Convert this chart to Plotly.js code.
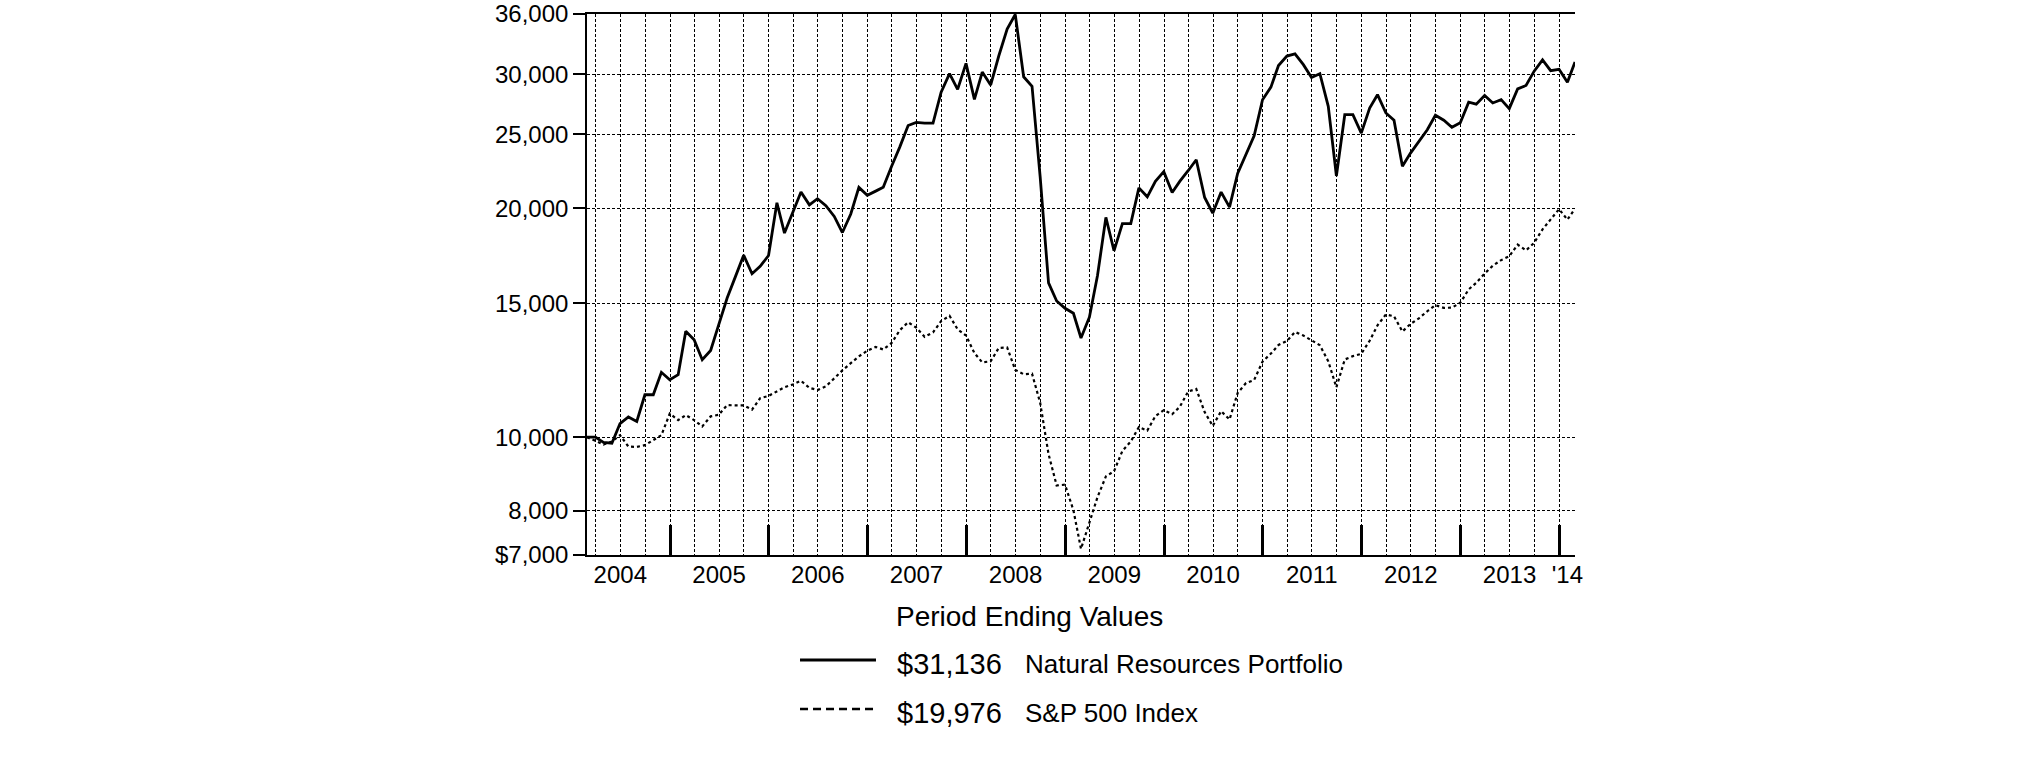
<!DOCTYPE html>
<html>
<head>
<meta charset="utf-8">
<script src="https://cdn.plot.ly/plotly-3.0.1.min.js"></script>
<style>
  html, body { margin: 0; padding: 0; background: #fff; }
  #chart { width: 2025px; height: 761px; }
</style>
</head>
<body>
<div id="chart"></div>
<script>
// growth of a $10,000 investment, month ends Feb 2004 .. Feb 2014
var naturalResources = [
  10000, 10000, 9840, 9820, 10420, 10630, 10490, 11370, 11370, 12170,
  11900, 12080, 13780, 13430, 12640, 13000, 14060, 15240, 16270, 17350,
  16400, 16770, 17330, 20330, 18550, 19710, 21000, 20200, 20580, 20150,
  19510, 18580, 19650, 21300, 20800, 21060, 21310, 22710, 24060, 25690,
  25930, 25870, 25870, 28410, 30050, 28650, 31000, 27800, 30200, 29030,
  31700, 34400, 35950, 29770, 28930, 22000, 15950, 15100, 14770, 14550,
  13500, 14380, 16310, 19450, 17580, 19090, 19090, 21270, 20700, 21700,
  22340, 20970, 21690, 22400, 23160, 20660, 19700, 21000, 20060, 22220,
  23500, 24900, 27770, 28850, 30800, 31700, 31900, 30880, 29700, 30050,
  27220, 22050, 26540, 26540, 25100, 27080, 28200, 26680, 26100, 22700,
  23630, 24480, 25360, 26500, 26100, 25550, 25900, 27570, 27400, 28130,
  27500, 27780, 27030, 28700, 29000, 30280, 31340, 30330, 30450, 29280,
  31136
];

var sp500 = [
  10000, 9890, 9780, 9870, 10060, 9720, 9710, 9760, 9900, 10060,
  10740, 10530, 10690, 10530, 10330, 10650, 10700, 11020, 11010, 11010,
  10870, 11250, 11330, 11500, 11630, 11730, 11860, 11610, 11535, 11660,
  11970, 12240, 12510, 12770, 12990, 13140, 13040, 13300, 13820, 14160,
  13930, 13550, 13730, 14210, 14440, 13860, 13600, 12900, 12540, 12580,
  13100, 13120, 12260, 12100, 12120, 11100, 9500, 8640, 8660, 8015,
  7130, 7700, 8340, 8880, 9020, 9590, 9870, 10310, 10200, 10660,
  10850, 10720, 10960, 11480, 11570, 10790, 10345, 10820, 10550, 11430,
  11780, 11890, 12570, 12880, 13220, 13380, 13750, 13600, 13410, 13210,
  12580, 11630, 12650, 12780, 12870, 13390, 14030, 14500, 14420, 13770,
  14090, 14330, 14640, 14910, 14790, 14800, 15020, 15640, 15960, 16410,
  16800, 17090, 17290, 17910, 17600, 18010, 18760, 19320, 19940, 19320,
  19976
];

var years = [2004, 2005, 2006, 2007, 2008, 2009, 2010, 2011, 2012, 2013];
var yearLabels = ['2004', '2005', '2006', '2007', '2008', '2009', '2010', '2011', '2012', '2013', "'14"];
var yTickVals = [7000, 8000, 10000, 15000, 20000, 25000, 30000, 36000];
var yTickText = ['$7,000', '8,000', '10,000', '15,000', '20,000', '25,000', '30,000', '36,000'];
var endingValues = ['$31,136', '$19,976'];
var seriesNames = ['Natural Resources Portfolio', 'S&P 500 Index'];

function monthEnd(y, m) {
  return new Date(Date.UTC(y, m, 0)).toISOString().slice(0, 10);
}

var months = [];
for (var k = 0; k < naturalResources.length; k++) {
  months.push(monthEnd(2004 + Math.floor((k + 1) / 12), (k + 1) % 12 + 1));
}

// year boundaries get the long tick marks, labels sit mid-year
var yearStarts = years.map(function (y) { return (y + 1) + '-01-01'; });
var labelDates = years.map(function (y) { return y + '-07-01'; }).concat(['2014-01-31']);

var FONT = 'Liberation Sans, Arial, sans-serif';
var xRange = [months[0], months[months.length - 1]];
var GRID_DASH = '3px,2px';

var data = [
  {
    x: months, y: naturalResources, type: 'scatter', mode: 'lines',
    line: { color: '#000', width: 2.8 },
    hoverinfo: 'skip'
  },
  {
    x: months, y: sp500, type: 'scatter', mode: 'lines',
    xaxis: 'x2',
    line: { color: '#000', width: 2.2, dash: '3px,3px' },
    hoverinfo: 'skip'
  }
];

var layout = {
  width: 2025, height: 761,
  margin: { l: 587, r: 450, t: 14, b: 206 },
  paper_bgcolor: '#fff', plot_bgcolor: '#fff',
  showlegend: false,
  font: { family: FONT, color: '#000', size: 24 },
  xaxis: {
    type: 'date', range: xRange, fixedrange: true,
    tickmode: 'array', tickvals: yearStarts,
    ticks: 'inside', ticklen: 30, tickwidth: 3, tickcolor: '#000',
    showticklabels: false,
    showgrid: true, gridcolor: '#000', gridwidth: 1, griddash: GRID_DASH,
    minor: {
      tick0: '2004-04-01', dtick: 'M3', ticks: '',
      showgrid: true, gridcolor: '#000', gridwidth: 1, griddash: GRID_DASH
    },
    showline: true, linecolor: '#000', linewidth: 1.8, mirror: true,
    zeroline: false
  },
  xaxis2: {
    type: 'date', range: xRange, fixedrange: true,
    overlaying: 'x', anchor: 'y', side: 'bottom',
    tickmode: 'array', tickvals: labelDates, ticktext: yearLabels,
    ticks: '', ticklabelstandoff: 3,
    showgrid: false, showline: false, zeroline: false,
    tickfont: { family: FONT, size: 24, color: '#000' }
  },
  yaxis: {
    type: 'log', range: [Math.log10(7000), Math.log10(36000)], fixedrange: true,
    tickmode: 'array', tickvals: yTickVals, ticktext: yTickText,
    ticks: 'outside', ticklen: 12, tickwidth: 2, tickcolor: '#000',
    tickfont: { family: FONT, size: 24, color: '#000' },
    showgrid: true, gridcolor: '#000', gridwidth: 1, griddash: GRID_DASH,
    showline: true, linecolor: '#000', linewidth: 1.8,
    zeroline: false
  },
  shapes: [
    { type: 'line', xref: 'paper', yref: 'paper', x0: 0.2156, x1: 0.2925, y0: -0.1941, y1: -0.1941,
      line: { color: '#000', width: 3 } },
    { type: 'line', xref: 'paper', yref: 'paper', x0: 0.2156, x1: 0.2925, y0: -0.2847, y1: -0.2847,
      line: { color: '#000', width: 2.4, dash: '8px,5px' } }
  ],
  annotations: [
    { text: 'Period Ending Values', xref: 'paper', yref: 'paper', x: 0.4474, y: -0.1146,
      xanchor: 'center', yanchor: 'middle', showarrow: false, font: { family: FONT, size: 28, color: '#000' } },
    { text: endingValues[0], xref: 'paper', yref: 'paper', x: 0.3117, y: -0.2015,
      xanchor: 'left', yanchor: 'middle', showarrow: false, font: { family: FONT, size: 29, color: '#000' } },
    { text: seriesNames[0], xref: 'paper', yref: 'paper', x: 0.4413, y: -0.2015,
      xanchor: 'left', yanchor: 'middle', showarrow: false, font: { family: FONT, size: 26, color: '#000' } },
    { text: endingValues[1], xref: 'paper', yref: 'paper', x: 0.3117, y: -0.2921,
      xanchor: 'left', yanchor: 'middle', showarrow: false, font: { family: FONT, size: 29, color: '#000' } },
    { text: seriesNames[1], xref: 'paper', yref: 'paper', x: 0.4413, y: -0.2921,
      xanchor: 'left', yanchor: 'middle', showarrow: false, font: { family: FONT, size: 26, color: '#000' } }
  ]
};

Plotly.newPlot('chart', data, layout, { displayModeBar: false, staticPlot: true });
</script>
</body>
</html>
